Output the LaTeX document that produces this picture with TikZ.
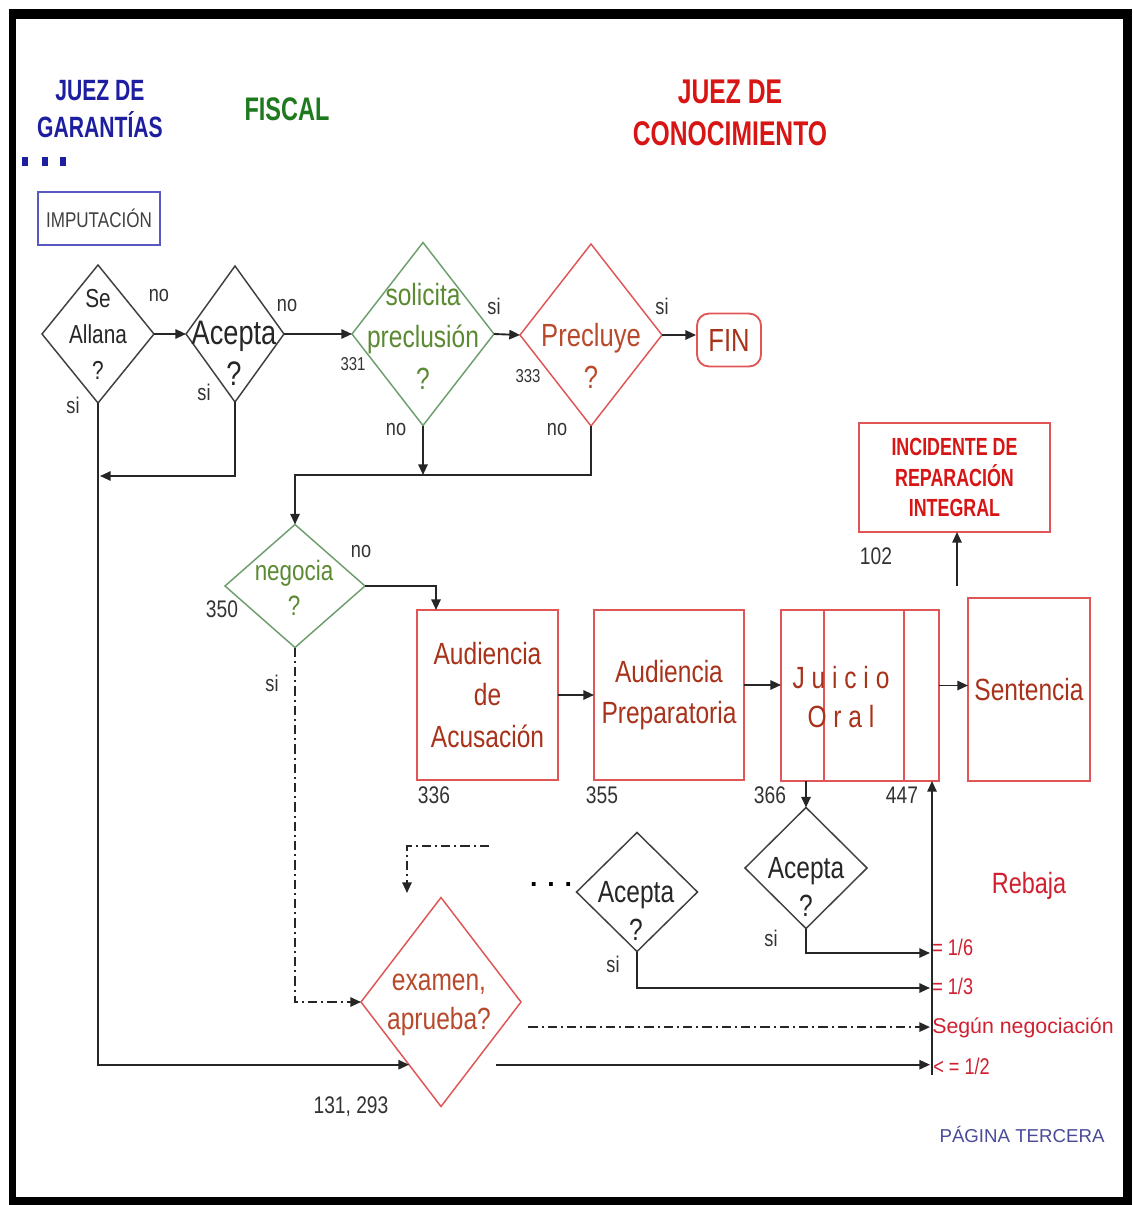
\documentclass[tikz,border=0pt]{standalone}
\usepackage{fontspec}
\setmainfont{Liberation Sans}
\newfontfamily\nar[FakeStretch=0.8]{Liberation Sans}
\newfontfamily\hdf[FakeStretch=0.72]{Liberation Sans}
\usetikzlibrary{shapes.geometric,arrows.meta,calc}
\newcommand\setfs[2]{\fontsize{#1pt}{#2pt}\selectfont}
\definecolor{jgblue}{HTML}{1E1EA0}
\definecolor{fisgreen}{HTML}{1F7A1F}
\definecolor{jcred}{HTML}{D81515}
\definecolor{dgreenb}{HTML}{6E9E6E}
\definecolor{gtext}{HTML}{5B8A32}
\definecolor{bred}{HTML}{E05555}
\definecolor{btext}{HTML}{A8321A}
\definecolor{ptext}{HTML}{B84A2C}
\definecolor{rtext}{HTML}{D02030}
\definecolor{dgray}{HTML}{404040}
\definecolor{pagblue}{HTML}{4A4A98}
\definecolor{impb}{HTML}{5858C0}
\begin{document}
\begin{tikzpicture}[x=0.75pt,y=-0.75pt,
  dia/.style={diamond, line width=1.1pt, inner sep=0, outer sep=0},
  grayd/.style={dia, draw=dgray},
  greend/.style={dia, draw=dgreenb},
  redd/.style={dia, draw=bred},
  box/.style={rectangle, draw=bred, line width=1.4pt, inner sep=0, outer sep=0},
  conn/.style={draw=black!85, line width=1.4pt},
  arr/.style={conn, -{Triangle[length=8pt,width=7pt]}},
  dd/.style={arr, dash pattern=on 7pt off 3pt on 1.5pt off 3pt},
  dtxt/.style={align=center, inner sep=0},
  lbl/.style={text=black!80, font=\nar\setfs{17}{20}, inner sep=0},
  num/.style={text=black!80, font=\nar\setfs{18}{20}, inner sep=0},
  rb/.style={text=rtext, font=\nar\setfs{17}{20}, inner sep=0, anchor=west},
]
\useasboundingbox (0,0) rectangle (1132,1205);
% page frame
\fill[black] (9,9) rectangle (1132,1205);
\fill[white] (16,19) rectangle (1123,1197);

% column headings
\node[text=jgblue, font=\hdf\bfseries\setfs{22}{28}, align=center, inner sep=0] (hjg) at (100,109) {JUEZ DE\\GARANTÍAS};
\node[text=fisgreen, font=\hdf\bfseries\setfs{24.5}{28}, inner sep=0] (hfis) at (287,109) {FISCAL};
\node[text=jcred, font=\hdf\bfseries\setfs{25.7}{31}, align=center, inner sep=0] (hjc) at (730,113) {JUEZ DE\\CONOCIMIENTO};
\foreach \i/\xx in {1/25,2/45,3/63}
  \fill[jgblue] (\xx-3,157) rectangle (\xx+3,166);

\node[draw=impb, line width=1.2pt, minimum width=91.5pt, minimum height=39.75pt, inner sep=0,
      text=black!75, font=\nar\setfs{16}{18}] (imp) at (99,218.5) {IMPUTACIÓN};

% decision diamonds
\node[grayd, minimum width=84pt, minimum height=103.5pt] (allana) at (98,334) {};
\node[dtxt, font=\nar\setfs{19.5}{27}, text=black!85] (tallana) at (98,334) {Se\\Allana\\?};
\node[grayd, minimum width=73.5pt, minimum height=102pt] (acep1) at (235,334) {};
\node[dtxt, font=\nar\setfs{25.5}{31}, text=black!85] (tacep1) at (234,353) {Acepta\\?};
\node[greend, minimum width=106.5pt, minimum height=137.25pt] (solic) at (423,334) {};
\node[dtxt, font=\nar\setfs{23}{31.5}, text=gtext] (tsolic) at (423,336) {solicita\\preclusión\\?};
\node[redd, minimum width=106.5pt, minimum height=136.5pt] (precl) at (591,335) {};
\node[dtxt, font=\nar\setfs{24}{31.5}, text=ptext] (tprecl) at (591,356) {Precluye\\?};
\node[draw=bred, line width=1.4pt, rounded corners=9pt, minimum width=48pt, minimum height=39.75pt,
      inner sep=0, text=btext, font=\nar\setfs{24}{26}] (fin) at (729,340) {FIN};
\node[greend, minimum width=105pt, minimum height=92.25pt] (nego) at (295,586) {};
\node[dtxt, font=\nar\setfs{21}{26}, text=gtext] (tnego) at (294,588) {negocia\\?};
\node[redd, minimum width=120pt, minimum height=156.75pt] (exam) at (441,1002) {};
\node[dtxt, font=\nar\setfs{23}{29}, text=ptext] (texam) at (439,1005) {examen,\\aprueba?};
\node[grayd, minimum width=90.75pt, minimum height=89.25pt] (acep3) at (637,892) {};
\node[dtxt, font=\nar\setfs{23}{29}, text=black!85] (tacep3) at (636,911) {Acepta\\?};
\node[grayd, minimum width=91.5pt, minimum height=90.75pt] (acep2) at (806,868) {};
\node[dtxt, font=\nar\setfs{23}{29}, text=black!85] (tacep2) at (806,887) {Acepta\\?};

% stage boxes
\node[box, minimum width=105.75pt, minimum height=127.5pt, align=center, text=btext,
      font=\nar\setfs{23}{31}] (acus) at (487.5,695) {Audiencia\\de\\Acusación};
\node[box, minimum width=112.5pt, minimum height=127.5pt, align=center, text=btext,
      font=\nar\setfs{23}{31}] (prep) at (669,695) {Audiencia\\Preparatoria};
\node[box, minimum width=118.5pt, minimum height=128.25pt] (juicio) at (860,695.5) {};
\draw[bred, line width=1.2pt] (824,610) -- (824,781) (904,610) -- (904,781);
\node[dtxt, text=btext, font=\nar\setfs{23}{29}] (tjuicio) at (841,697) {J u i c i o\\O r a l};
\node[box, minimum width=91.5pt, minimum height=137.25pt, text=btext,
      font=\nar\setfs{23}{26}] (sent) at (1029,689.5) {Sentencia};
\node[box, minimum width=143.25pt, minimum height=81.75pt, align=center, text=jcred,
      font=\hdf\bfseries\setfs{18.6}{23}] (incid) at (954.5,477.5) {INCIDENTE DE\\REPARACIÓN\\INTEGRAL};

% upper flow
\draw[arr] (allana.east) -- (acep1.west);
\draw[arr] (acep1.east) -- (solic.west);
\draw[arr] (solic.east) -- (precl.west);
\draw[arr] (precl.east) -- (precl.east -| fin.west);
\coordinate (j1) at (423,475);
\draw[arr] (solic.south) -- (j1);
\draw[arr] (precl.south) |- (j1) -| (nego.north);
\coordinate (j2) at (100,476);
\draw[arr] (acep1.south) |- (j2);

% into and out of the hearings
\coordinate (acin) at ($(acus.north west)+(19,0)$);
\draw[arr] (nego.east) -| (acin);
\draw[arr] (acus.east) -- (prep.west);
\coordinate (pj) at ($(prep.east)+(0,-10)$);
\draw[arr] (pj) -- (pj -| juicio.west);
\coordinate (js) at ($(juicio.east)+(0,-10)$);
\draw[arr] (js) -- (js -| sent.west);
\coordinate (rep) at (957,586);
\draw[arr] (rep) -- (rep |- incid.south);

% reductions
\coordinate (rbot) at (932,1075);
\draw[arr] (rbot) -- (rbot |- juicio.south);
\draw[arr] (juicio.south -| acep2.north) -- (acep2.north);
\coordinate (r16) at (930,953);
\coordinate (r13) at (930,988);
\coordinate (rneg) at (930,1027);
\coordinate (r12) at (930,1066);
\draw[arr] (acep2.south) |- (r16);
\draw[arr] (acep3.south) |- (r13);
\coordinate (exin) at ($(exam.west)!0.6!(exam.south)$);
\coordinate (exout) at ($(exam.east)!0.6!(exam.south)$);
\draw[arr] (allana.south) |- (exin);
\draw[arr, shorten <=17pt] (exout) -- (exout -| r12);
\coordinate (exneg) at ($(exam.east)!0.24!(exam.south)$);
\draw[dd, shorten <=20pt] (exneg) -- (exneg -| rneg);
\draw[dd] (nego.south) |- (exam.west);
\coordinate (ds1) at (489,846);
\coordinate (ds2) at (407,893);
\draw[dd] (ds1) -| (ds2);
\node[font=\bfseries\setfs{20}{20}, inner sep=0] (dots) at (551,885) {. . .};

% branch labels
\node[lbl] (l1) at (159,296) {no};
\node[lbl] (l2) at (73,405) {si};
\node[lbl] (l3) at (287,306) {no};
\node[lbl] (l4) at (204,392) {si};
\node[lbl] (l5) at (494,306) {si};
\node[lbl] (l6) at (662,306) {si};
\node[lbl] (l7) at (396,430) {no};
\node[lbl] (l8) at (557,430) {no};
\node[lbl] (l9) at (361,552) {no};
\node[lbl] (l10) at (272,683) {si};
\node[lbl] (l11) at (771,938) {si};
\node[lbl] (l12) at (613,964) {si};

% article numbers
\node[num, font=\nar\setfs{14}{16}] (n331) at (353,364) {331};
\node[num, font=\nar\setfs{14}{16}] (n333) at (528,376) {333};
\node[num] (n350) at (222,609) {350};
\node[num] (n336) at (434,795) {336};
\node[num] (n355) at (602,795) {355};
\node[num] (n366) at (770,795) {366};
\node[num] (n447) at (902,795) {447};
\node[num] (n102) at (876,556) {102};
\node[num] (n131) at (351,1107) {131, 293};

% reduction amounts
\node[text=rtext, font=\nar\setfs{22}{24}, inner sep=0] (rebaja) at (1029,886) {Rebaja};
\node[rb] (t16) at (932,947) {= 1/6};
\node[rb] (t13) at (932,986) {= 1/3};
\node[rb, font=\setfs{16}{20}] (tneg) at (932,1028) {Según negociación};
\node[rb] (t12) at (933,1066) {< = 1/2};

\node[text=pagblue, font=\setfs{14}{16}, inner sep=0] (pag) at (1022,1134) {PÁGINA TERCERA};
\end{tikzpicture}
\end{document}
